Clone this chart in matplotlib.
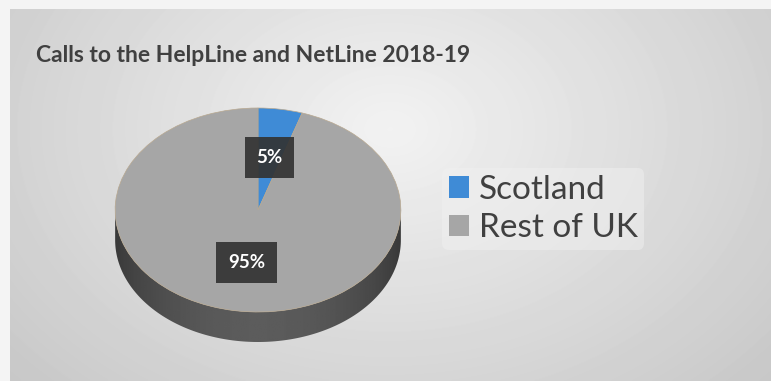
"""Camembert 3D : appels HelpLine / NetLine 2018-19."""
import numpy as np
import matplotlib.pyplot as plt
from matplotlib.patches import Polygon

labels = ["Scotland", "Rest of UK"]
shares = [5, 95]
colors = ["#3f8bd6", "#a6a6a6"]
title = "Calls to the HelpLine and NetLine 2018-19"

W, H = 771, 381
fig = plt.figure(figsize=(W / 100, H / 100), dpi=100)
fig.patch.set_facecolor("#f4f4f4")

# fond : dégradé radial, plus clair vers le haut-centre
bg = fig.add_axes([10 / W, 0, (W - 10) / W, (H - 9) / H])
yy, xx = np.mgrid[0:H - 9, 0:W - 10]
d = np.sqrt(((xx - 380) / 520) ** 2 + ((yy - 120) / 380) ** 2)
shade = np.clip(0.95 - 0.17 * d, 0.78, 0.95)
bg.imshow(shade, cmap="gray", vmin=0, vmax=1, aspect="auto", interpolation="bilinear")
bg.axis("off")
bg.text(25, 46, title, fontsize=16.5, fontweight="bold", color="#404040",
        family="Lato", va="center", ha="left")

# camembert : axe à échelles différentes en x et y -> ellipse
cx, cy, ax_w, ax_h = 258, 210, 300, 250
ax = fig.add_axes([(cx - ax_w / 2) / W, (H - 350) / H, ax_w / W, ax_h / H])
ytop = (cy - 100) / 102
depth = 30 / 102

# flanc du cylindre
theta = np.linspace(np.pi, 2 * np.pi, 200)
side = np.concatenate([
    np.column_stack([np.cos(theta), np.sin(theta) - depth]),
    np.column_stack([np.cos(theta[::-1]), np.sin(theta[::-1])]),
])
clip = Polygon(side, closed=True, facecolor="none", edgecolor="none")
ax.add_patch(clip)
grad = np.linspace(0, 1, 200)[None, :]
grad = 0.22 + 0.14 * np.sin(grad * np.pi) ** 0.7
im = ax.imshow(np.repeat(grad, 10, axis=0), cmap="gray", vmin=0, vmax=1,
               extent=(-1, 1, -1 - depth, 0), aspect="auto", zorder=1)
im.set_clip_path(clip)

wedges, _, autotexts = ax.pie(
    shares, colors=colors, startangle=90, counterclock=False,
    autopct="%.0f%%", pctdistance=0.52, radius=1,
    wedgeprops=dict(edgecolor="#b8a890", linewidth=0.5),
    textprops=dict(color="white", fontsize=13.5, family="Lato", fontweight="bold"),
)
for w in wedges:
    w.set_zorder(2)
for t in autotexts:
    t.set_zorder(3)
    t.set_bbox(dict(boxstyle="square,pad=0.62", facecolor="#333333",
                    edgecolor="none", alpha=0.92))
ax.set_aspect("auto")
ax.set_xlim(-1.05, 1.05)
ax.set_ylim(ytop - ax_h / 102, ytop)
ax.axis("off")

# légende
leg = fig.legend(wedges, labels, loc="upper left",
                 bbox_to_anchor=(442 / W, 1 - 168 / H), frameon=True,
                 prop=dict(family="Lato", size=24), labelcolor="#404040",
                 handlelength=0.6, handleheight=0.6, handletextpad=0.3,
                 labelspacing=0.25, borderpad=0.2, borderaxespad=0)
leg.get_frame().set_facecolor("#f0f0f0")
leg.get_frame().set_edgecolor("none")
leg.get_frame().set_alpha(0.5)
for h in leg.legend_handles:
    h.set_edgecolor("none")

fig.savefig("out.png", dpi=100)
